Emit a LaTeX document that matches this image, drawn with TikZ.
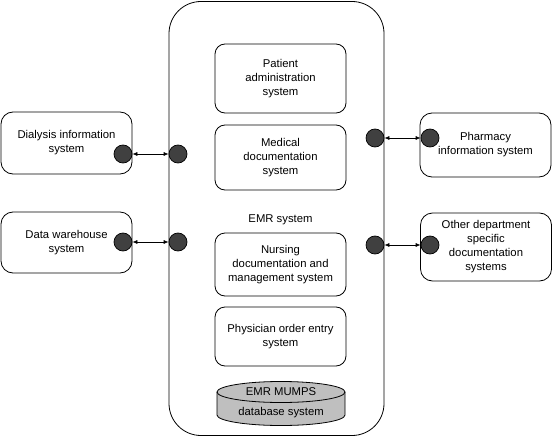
\documentclass[tikz,border=0pt]{standalone}
\usepackage{fontspec}
\setmainfont{Liberation Sans}
\usetikzlibrary{arrows.meta}
\begin{document}
\begin{tikzpicture}[x=1pt,y=1pt,
  every node/.style={font=\fontsize{11.3}{14}\selectfont, align=center, inner sep=0pt},
  inbox/.style={draw, line width=0.8pt, rounded corners=10pt, minimum width=131pt},
  outbox/.style={draw, line width=0.8pt, rounded corners=12pt, minimum width=131pt},
  port/.style={circle, draw, line width=0.7pt, fill=black!75, minimum size=18pt},
  link/.style={{Latex[length=5pt,width=4pt]}-{Latex[length=5pt,width=4pt]}, line width=0.7pt}
]
\useasboundingbox (0,0) rectangle (553,437);
% container
\node[draw, line width=0.8pt, rounded corners=32pt, minimum width=215pt, minimum height=434pt] (emr) at (276.5,218.5) {};
\node (emrlabel) at (280.5,217) {EMR system};
% inner boxes
\node[inbox, minimum height=69pt] (pat) at (280.5,358.5) {Patient\\administration\\system};
\node[inbox, minimum height=65pt] (med) at (280.5,279.5) {Medical\\documentation\\system};
\node[inbox, minimum height=63pt] (nur) at (280.5,172.5) {Nursing\\documentation and\\management system};
\node[inbox, minimum height=59pt] (phy) at (280.5,100.5) {Physician order entry\\system};
% database cylinder
\fill[black!25] (217,45) -- (217,22) arc[start angle=180,end angle=360,x radius=64,y radius=10.5] -- (345,45) arc[start angle=0,end angle=180,x radius=64,y radius=10.5] -- cycle;
\draw[line width=0.8pt] (217,45) -- (217,22) arc[start angle=180,end angle=360,x radius=64,y radius=10.5] -- (345,45);
\draw[line width=0.8pt] (281,45) ellipse[x radius=64,y radius=10.5];
\node (db1) at (281,45) {EMR MUMPS};
\node (db2) at (281,24) {database system};
% left boxes
\node[outbox, minimum height=62pt] (dia) at (66.5,294) {Dialysis information\\system};
\node[outbox, minimum height=61pt] (dwh) at (66.5,194.5) {Data warehouse\\system};
% right boxes
\node[outbox, minimum height=64pt] (pha) at (485.5,292) {Pharmacy\\information system};
\node[outbox, minimum height=68pt] (oth) at (486,190) {Other department\\specific\\documentation\\systems};
% ports
\node[port] (pdia) at (123,283) {};
\node[port] (edia) at (178,283) {};
\node[port] (pdwh) at (123,195) {};
\node[port] (edwh) at (178,195) {};
\node[port] (epha) at (375,299) {};
\node[port] (ppha) at (430,299) {};
\node[port] (eoth) at (375,192) {};
\node[port] (poth) at (430,192) {};
% links
\draw[link] (pdia) -- (edia);
\draw[link] (pdwh) -- (edwh);
\draw[link] (epha) -- (ppha);
\draw[link] (eoth) -- (poth);
\end{tikzpicture}
\end{document}
